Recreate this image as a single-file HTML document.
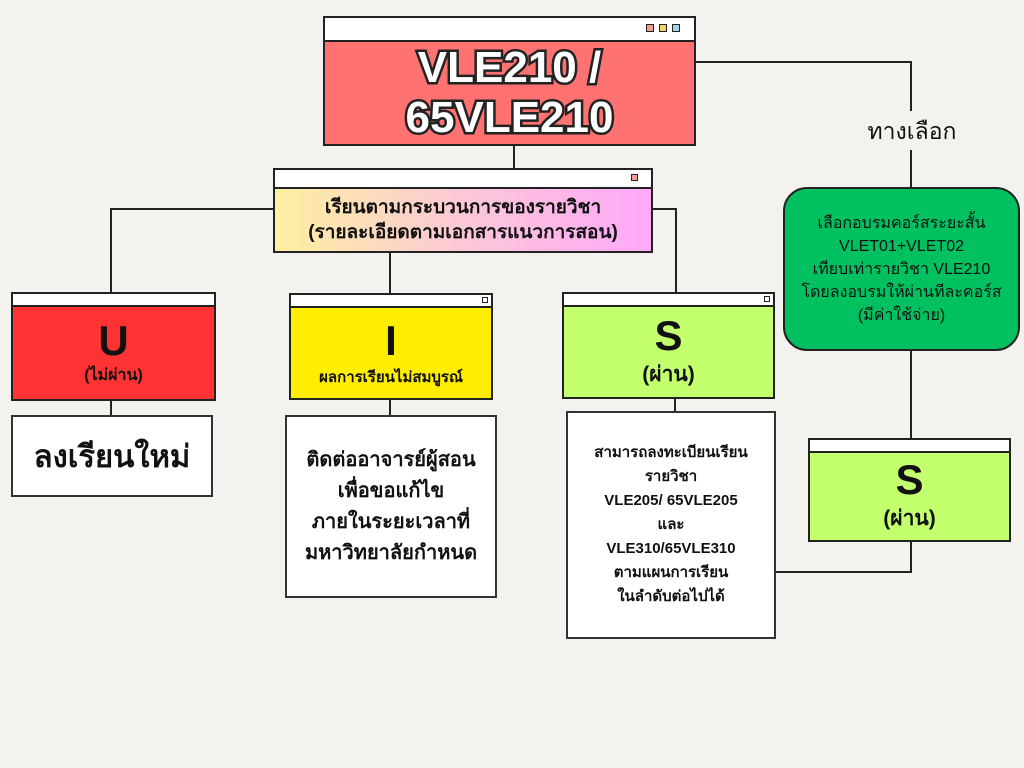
<!DOCTYPE html>
<html><head><meta charset="utf-8"><style>
*{margin:0;padding:0;box-sizing:border-box}
body{width:1024px;height:768px;background:#f3f2ee;position:relative;overflow:hidden;font-family:"Liberation Sans","DejaVu Sans",sans-serif;color:#111}
.a{position:absolute}
.win{position:absolute;border:2px solid #222;background:#fff}
.hd{position:absolute;left:0;right:0;top:0;border-bottom:2px solid #222;background:#fff}
.bd{position:absolute;left:0;right:0;bottom:0;display:flex;flex-direction:column;align-items:center;justify-content:center;text-align:center;font-weight:bold}
.l{position:absolute;background:#222}
.bx{position:absolute;border:2px solid #333;background:#fff;display:flex;align-items:center;justify-content:center;text-align:center;font-weight:bold}
.sq{position:absolute;width:8px;height:8px;border:1.5px solid #222}
</style></head><body>
<div class="l" style="left:513px;top:145px;width:2px;height:24px"></div>
<div class="l" style="left:110px;top:208px;width:164px;height:2px"></div>
<div class="l" style="left:110px;top:208px;width:2px;height:85px"></div>
<div class="l" style="left:389px;top:252px;width:2px;height:41px"></div>
<div class="l" style="left:651px;top:208px;width:26px;height:2px"></div>
<div class="l" style="left:675px;top:208px;width:2px;height:85px"></div>
<div class="l" style="left:110px;top:400px;width:2px;height:16px"></div>
<div class="l" style="left:389px;top:399px;width:2px;height:17px"></div>
<div class="l" style="left:674px;top:398px;width:2px;height:14px"></div>
<div class="l" style="left:695px;top:61px;width:217px;height:2px"></div>
<div class="l" style="left:910px;top:61px;width:2px;height:50px"></div>
<div class="l" style="left:910px;top:150px;width:2px;height:38px"></div>
<div class="l" style="left:910px;top:350px;width:2px;height:89px"></div>
<div class="l" style="left:910px;top:541px;width:2px;height:32px"></div>
<div class="l" style="left:775px;top:571px;width:137px;height:2px"></div>
<div class="a" style="left:850px;top:114px;width:124px;text-align:center;font-size:23px">ทางเลือก</div>

<div class="win" style="left:323px;top:16px;width:373px;height:130px">
 <div class="hd" style="height:24px"></div>
 <div class="sq" style="left:321px;top:6px;background:#f0a090"></div>
 <div class="sq" style="left:334px;top:6px;background:#f8d070"></div>
 <div class="sq" style="left:347px;top:6px;background:#a8d0e8"></div>
 <div class="bd" style="top:24px;background:#ff7272;font-size:44px;line-height:50px;color:#fff;-webkit-text-stroke:5px #222;paint-order:stroke fill;font-weight:900">VLE210 /<br>65VLE210</div>
</div>
<div class="win" style="left:273px;top:168px;width:380px;height:85px">
 <div class="hd" style="height:19px"></div>
 <div class="sq" style="left:356px;top:4px;width:7px;height:7px;background:#f0a090"></div>
 <div class="bd" style="top:19px;background:linear-gradient(90deg,#fdf0a0,#fcc8d8,#ffa8f8);font-size:19px;line-height:25px">เรียนตามกระบวนการของรายวิชา<br>(รายละเอียดตามเอกสารแนวการสอน)</div>
</div>
<div class="win" style="left:11px;top:292px;width:205px;height:109px">
 <div class="hd" style="height:13px"></div>
 <div class="bd" style="top:13px;background:#ff3333"><div style="font-size:42px;line-height:44px">U</div><div style="font-size:16px">(ไม่ผ่าน)</div></div>
</div>
<div class="win" style="left:289px;top:293px;width:204px;height:107px">
 <div class="hd" style="height:13px"></div>
 <div class="sq" style="left:191px;top:2px;width:6px;height:6px"></div>
 <div class="bd" style="top:13px;background:#ffee00"><div style="font-size:42px;line-height:48px">I</div><div style="font-size:15px">ผลการเรียนไม่สมบูรณ์</div></div>
</div>
<div class="win" style="left:562px;top:292px;width:213px;height:107px">
 <div class="hd" style="height:13px"></div>
 <div class="sq" style="left:200px;top:2px;width:6px;height:6px"></div>
 <div class="bd" style="top:13px;background:#c4ff6e"><div style="font-size:42px;line-height:44px">S</div><div style="font-size:21px">(ผ่าน)</div></div>
</div>
<div class="bx" style="left:11px;top:415px;width:202px;height:82px;font-size:31px">ลงเรียนใหม่</div>
<div class="bx" style="left:285px;top:415px;width:212px;height:183px;font-size:20px;line-height:31px">ติดต่ออาจารย์ผู้สอน<br>เพื่อขอแก้ไข<br>ภายในระยะเวลาที่<br>มหาวิทยาลัยกำหนด</div>
<div class="bx" style="left:566px;top:411px;width:210px;height:228px;font-size:15px;line-height:24px">สามารถลงทะเบียนเรียน<br>รายวิชา<br>VLE205/ 65VLE205<br>และ<br>VLE310/65VLE310<br>ตามแผนการเรียน<br>ในลำดับต่อไปได้</div>
<div class="a" style="left:783px;top:187px;width:237px;height:164px;background:#00c060;border:2px solid #222;border-radius:24px;display:flex;align-items:center;justify-content:center;text-align:center;font-size:16px;line-height:23px">เลือกอบรมคอร์สระยะสั้น<br>VLET01+VLET02<br>เทียบเท่ารายวิชา VLE210<br>โดยลงอบรมให้ผ่านทีละคอร์ส<br>(มีค่าใช้จ่าย)</div>
<div class="win" style="left:808px;top:438px;width:203px;height:104px">
 <div class="hd" style="height:13px"></div>
 <div class="bd" style="top:13px;background:#c4ff6e"><div style="font-size:42px;line-height:44px">S</div><div style="font-size:21px">(ผ่าน)</div></div>
</div>
</body></html>
